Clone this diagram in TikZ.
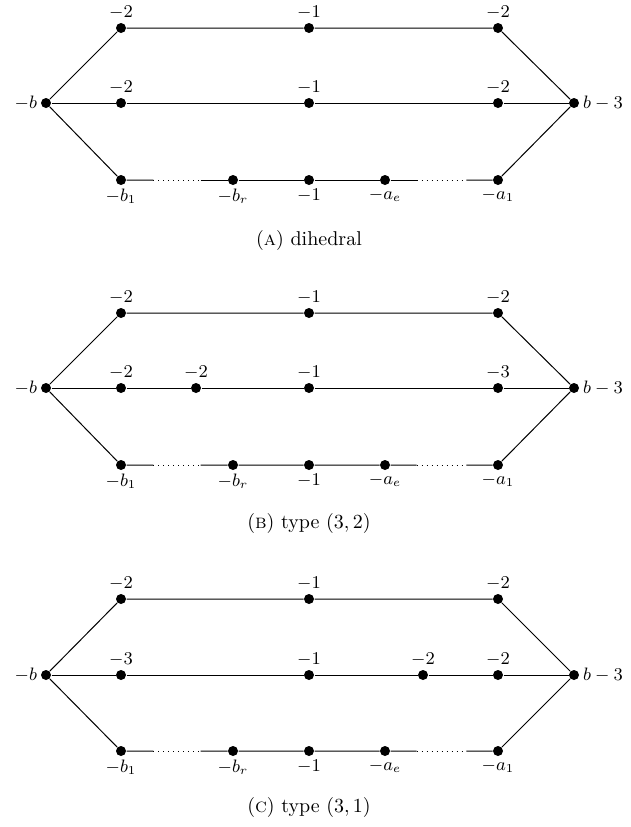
\documentclass[tikz,border=0pt]{standalone}
\usepackage{amssymb}
\usepackage{tikz}
\usetikzlibrary{calc}
\tikzset{
  vert/.style={circle,fill=black,inner sep=0pt,minimum size=5pt},
  lab/.style={font=\small,inner sep=1.5pt},
  capt/.style={font=\normalsize}}

\begin{document}
\begin{tikzpicture}[x=0.5pt,y=-0.5pt,line width=0.5pt]
\useasboundingbox (0,0) rectangle (631,827);
% (a) dihedral
\node[vert,label={[lab]left:$-b$}] (al) at (46,103) {};
\node[vert,label={[lab]right:$b-3$}] (ar) at (574,103) {};
\node[vert,label={[lab]above:$-2$}] (at1) at (121,28) {};
\node[vert,label={[lab]above:$-1$}] (at2) at (309,28) {};
\node[vert,label={[lab]above:$-2$}] (at3) at (498,28) {};
\node[vert,label={[lab]above:$-2$}] (am1) at (121,103) {};
\node[vert,label={[lab]above:$-1$}] (am2) at (309,103) {};
\node[vert,label={[lab]above:$-2$}] (am3) at (498,103) {};
\node[vert,label={[lab]below:$-b_1$}] (ab1) at (121,180) {};
\node[vert,label={[lab]below:$-b_r$}] (abr) at (233,180) {};
\node[vert,label={[lab]below:$-1$}] (ab0) at (309,180) {};
\node[vert,label={[lab]below:$-a_e$}] (aae) at (385,180) {};
\node[vert,label={[lab]below:$-a_1$}] (aa1) at (498,180) {};
\draw (al) -- (at1) -- (at2) -- (at3) -- (ar);
\draw (al) -- (am1) -- (am2) -- (am3) -- (ar);
\draw (al) -- (ab1) -- ($(ab1)!.29!(abr)$);
\draw[dotted] ($(ab1)!.29!(abr)$) -- ($(ab1)!.71!(abr)$);
\draw ($(ab1)!.71!(abr)$) -- (abr) -- (ab0) -- (aae) -- ($(aae)!.28!(aa1)$);
\draw[dotted] ($(aae)!.28!(aa1)$) -- ($(aae)!.72!(aa1)$);
\draw ($(aae)!.72!(aa1)$) -- (aa1) -- (ar);
\node[capt] (acap) at (309,240) {(\textsc{a}) dihedral};

% (b) type (3,2)
\node[vert,label={[lab]left:$-b$}] (bl) at (46,388) {};
\node[vert,label={[lab]right:$b-3$}] (br) at (574,388) {};
\node[vert,label={[lab]above:$-2$}] (bt1) at (121,313) {};
\node[vert,label={[lab]above:$-1$}] (bt2) at (309,313) {};
\node[vert,label={[lab]above:$-2$}] (bt3) at (498,313) {};
\node[vert,label={[lab]above:$-2$}] (bm1) at (121,388) {};
\node[vert,label={[lab]above:$-2$}] (bm4) at (196,388) {};
\node[vert,label={[lab]above:$-1$}] (bm2) at (309,388) {};
\node[vert,label={[lab]above:$-3$}] (bm3) at (498,388) {};
\node[vert,label={[lab]below:$-b_1$}] (bb1) at (121,465) {};
\node[vert,label={[lab]below:$-b_r$}] (bbr) at (233,465) {};
\node[vert,label={[lab]below:$-1$}] (bb0) at (309,465) {};
\node[vert,label={[lab]below:$-a_e$}] (bae) at (385,465) {};
\node[vert,label={[lab]below:$-a_1$}] (ba1) at (498,465) {};
\draw (bl) -- (bt1) -- (bt2) -- (bt3) -- (br);
\draw (bl) -- (bm1) -- (bm4) -- (bm2) -- (bm3) -- (br);
\draw (bl) -- (bb1) -- ($(bb1)!.29!(bbr)$);
\draw[dotted] ($(bb1)!.29!(bbr)$) -- ($(bb1)!.71!(bbr)$);
\draw ($(bb1)!.71!(bbr)$) -- (bbr) -- (bb0) -- (bae) -- ($(bae)!.28!(ba1)$);
\draw[dotted] ($(bae)!.28!(ba1)$) -- ($(bae)!.72!(ba1)$);
\draw ($(bae)!.72!(ba1)$) -- (ba1) -- (br);
\node[capt] (bcap) at (309,523) {(\textsc{b}) type $(3,2)$};

% (c) type (3,1)
\node[vert,label={[lab]left:$-b$}] (cl) at (46,675) {};
\node[vert,label={[lab]right:$b-3$}] (cr) at (574,675) {};
\node[vert,label={[lab]above:$-2$}] (ct1) at (121,599) {};
\node[vert,label={[lab]above:$-1$}] (ct2) at (309,599) {};
\node[vert,label={[lab]above:$-2$}] (ct3) at (498,599) {};
\node[vert,label={[lab]above:$-3$}] (cm1) at (121,675) {};
\node[vert,label={[lab]above:$-1$}] (cm2) at (309,675) {};
\node[vert,label={[lab]above:$-2$}] (cm4) at (423,675) {};
\node[vert,label={[lab]above:$-2$}] (cm3) at (498,675) {};
\node[vert,label={[lab]below:$-b_1$}] (cb1) at (121,751) {};
\node[vert,label={[lab]below:$-b_r$}] (cbr) at (233,751) {};
\node[vert,label={[lab]below:$-1$}] (cb0) at (309,751) {};
\node[vert,label={[lab]below:$-a_e$}] (cae) at (385,751) {};
\node[vert,label={[lab]below:$-a_1$}] (ca1) at (498,751) {};
\draw (cl) -- (ct1) -- (ct2) -- (ct3) -- (cr);
\draw (cl) -- (cm1) -- (cm2) -- (cm4) -- (cm3) -- (cr);
\draw (cl) -- (cb1) -- ($(cb1)!.29!(cbr)$);
\draw[dotted] ($(cb1)!.29!(cbr)$) -- ($(cb1)!.71!(cbr)$);
\draw ($(cb1)!.71!(cbr)$) -- (cbr) -- (cb0) -- (cae) -- ($(cae)!.28!(ca1)$);
\draw[dotted] ($(cae)!.28!(ca1)$) -- ($(cae)!.72!(ca1)$);
\draw ($(cae)!.72!(ca1)$) -- (ca1) -- (cr);
\node[capt] (ccap) at (309,807) {(\textsc{c}) type $(3,1)$};
\end{tikzpicture}
\end{document}
